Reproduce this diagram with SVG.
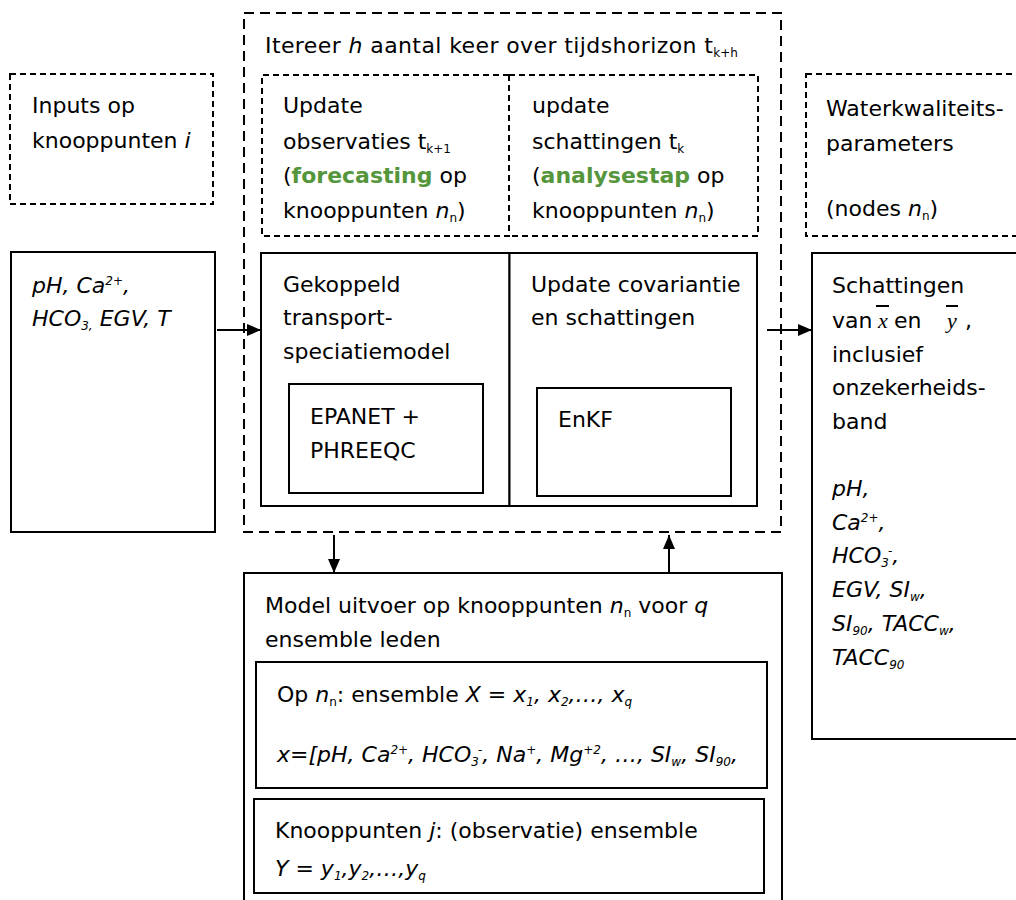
<svg xmlns="http://www.w3.org/2000/svg" width="1016" height="900" viewBox="0 0 1016 900">
<style>
text{font-family:"DejaVu Sans","Liberation Sans",sans-serif;font-size:22px;fill:#000}
.i{font-style:italic}
.sm{font-size:12px}
.g{fill:#55963c;font-weight:bold}
.box{fill:#fff;stroke:#000;stroke-width:2}
.dl{fill:none;stroke:#000;stroke-width:2;stroke-dasharray:10 6}
.ds{fill:none;stroke:#000;stroke-width:2;stroke-dasharray:6 4}
.c{fill:none;stroke:#000;stroke-width:2}
.ser{font-family:"Liberation Serif","DejaVu Serif",serif;font-style:italic}
</style>
<defs>
<marker id="ah" markerUnits="userSpaceOnUse" markerWidth="14" markerHeight="14" refX="14" refY="7" orient="auto">
<path d="M0,1 L14,7 L0,13 z" fill="#000"/>
</marker>
</defs>

<g id="inputs-label">
<rect class="ds" x="10" y="74" width="203" height="130"/>
<text x="32" y="113">Inputs op</text>
<text x="32" y="148">knooppunten <tspan class="i">i</tspan></text>
</g>

<g id="inputs">
<rect class="box" x="11" y="252" width="204" height="280"/>
<text class="i" x="32" y="293">pH, Ca<tspan class="sm" dy="-8">2+</tspan><tspan dy="8">,</tspan></text>
<text class="i" x="32" y="326">HCO<tspan class="sm" dy="4">3,</tspan><tspan dy="-4"> EGV, T</tspan></text>
</g>

<g id="iteration">
<rect class="dl" x="244" y="13" width="537" height="519"/>
<text x="265" y="53" letter-spacing="0.4">Itereer <tspan class="i">h</tspan> aantal keer over tijdshorizon t<tspan class="sm" dy="4" letter-spacing="0">k+h</tspan></text>
</g>

<g id="update-observaties">
<path class="ds" d="M509,75 H262 V236 H509 Z"/>
<text x="283" y="113">Update</text>
<text x="283" y="149">observaties t<tspan class="sm" dy="4">k+1</tspan></text>
<text x="283" y="183">(<tspan class="g">forecasting</tspan> op</text>
<text x="283" y="218">knooppunten <tspan class="i">n</tspan><tspan class="sm" dy="4">n</tspan><tspan dy="-4">)</tspan></text>
</g>

<g id="update-schattingen">
<path class="ds" d="M509,75 H758 V236 H509"/>
<text x="532" y="113">update</text>
<text x="532" y="149">schattingen t<tspan class="sm" dy="4">k</tspan></text>
<text x="532" y="183">(<tspan class="g">analysestap</tspan> op</text>
<text x="532" y="218">knooppunten <tspan class="i">n</tspan><tspan class="sm" dy="4">n</tspan><tspan dy="-4">)</tspan></text>
</g>

<g id="transportmodel">
<rect class="box" x="261" y="253" width="248.5" height="253"/>
<text x="283" y="292">Gekoppeld</text>
<text x="283" y="325">transport-</text>
<text x="283" y="359">speciatiemodel</text>
</g>

<g id="epanet">
<rect class="box" x="289" y="384" width="194" height="109"/>
<text x="310" y="424">EPANET +</text>
<text x="310" y="458">PHREEQC</text>
</g>

<g id="covariantie">
<rect class="box" x="509.5" y="253" width="247.5" height="253"/>
<text x="531" y="292">Update covariantie</text>
<text x="531" y="325">en schattingen</text>
</g>

<g id="enkf">
<rect class="box" x="537" y="388" width="194" height="108"/>
<text x="558" y="427">EnKF</text>
</g>

<g id="output-label">
<rect class="ds" x="806" y="74" width="230" height="162"/>
<text x="826" y="116">Waterkwaliteits-</text>
<text x="826" y="151">parameters</text>
<text x="826" y="216">(nodes <tspan class="i">n</tspan><tspan class="sm" dy="4">n</tspan><tspan dy="-4">)</tspan></text>
</g>

<g id="schattingen">
<rect class="box" x="812" y="253" width="230" height="486"/>
<text x="832" y="293">Schattingen</text>
<text x="832" y="328">van</text>
<text class="ser" x="878" y="328">x</text>
<path class="c" d="M876,306 H889 M946,306 H958" stroke-width="1.5"/>
<text x="894" y="328">en</text>
<text class="ser" x="947" y="328">y</text>
<text x="965" y="328">,</text>
<text x="832" y="362">inclusief</text>
<text x="832" y="395">onzekerheids-</text>
<text x="832" y="429">band</text>
<text class="i" x="832" y="496">pH,</text>
<text class="i" x="832" y="530">Ca<tspan class="sm" dy="-8">2+</tspan><tspan dy="8">,</tspan></text>
<text class="i" x="832" y="563">HCO<tspan class="sm" dy="4">3</tspan><tspan class="sm" dx="-1" dy="-12">-</tspan><tspan dy="8">,</tspan></text>
<text class="i" x="832" y="597">EGV, SI<tspan class="sm" dy="4">w</tspan><tspan dy="-4">,</tspan></text>
<text class="i" x="832" y="631">SI<tspan class="sm" dy="4">90</tspan><tspan dy="-4">, TACC</tspan><tspan class="sm" dy="4">w</tspan><tspan dy="-4">,</tspan></text>
<text class="i" x="832" y="665">TACC<tspan class="sm" dy="4">90</tspan></text>
</g>

<g id="model-uitvoer">
<rect class="box" x="244" y="573" width="538" height="360"/>
<text x="265" y="613">Model uitvoer op knooppunten <tspan class="i">n</tspan><tspan class="sm" dy="4">n</tspan><tspan dy="-4"> voor </tspan><tspan class="i">q</tspan></text>
<text x="265" y="647">ensemble leden</text>
</g>

<g id="ensemble-x">
<rect class="box" x="256" y="662" width="511" height="126"/>
<text x="277" y="702">Op <tspan class="i">n</tspan><tspan class="sm" dy="4">n</tspan><tspan dy="-4">: ensemble </tspan><tspan class="i">X = x</tspan><tspan class="sm i" dy="4">1</tspan><tspan class="i" dy="-4">, x</tspan><tspan class="sm i" dy="4">2</tspan><tspan class="i" dy="-4">,…, x</tspan><tspan class="sm i" dy="4">q</tspan></text>
<text class="i" x="277" y="762">x=[pH, Ca<tspan class="sm" dy="-8">2+</tspan><tspan dy="8">, HCO</tspan><tspan class="sm" dy="4">3</tspan><tspan class="sm" dx="-1" dy="-12">-</tspan><tspan dy="8">, Na</tspan><tspan class="sm" dy="-8">+</tspan><tspan dy="8">, Mg</tspan><tspan class="sm" dy="-8">+2</tspan><tspan dy="8">, …, SI</tspan><tspan class="sm" dy="4">w</tspan><tspan dy="-4">, SI</tspan><tspan class="sm" dy="4">90</tspan><tspan dy="-4">,</tspan></text>
</g>

<g id="ensemble-y">
<rect class="box" x="254" y="799" width="510" height="94"/>
<text x="275" y="838">Knooppunten <tspan class="i">j</tspan>: (observatie) ensemble</text>
<text class="i" x="275" y="876">Y = y<tspan class="sm" dy="4">1</tspan><tspan dy="-4">,y</tspan><tspan class="sm" dy="4">2</tspan><tspan dy="-4">,…,y</tspan><tspan class="sm" dy="4">q</tspan></text>
</g>

<g id="connectors">
<path class="c" d="M217,330 H261" marker-end="url(#ah)"/>
<path class="c" d="M767,330 H812" marker-end="url(#ah)"/>
<path class="c" d="M334,535 V573" marker-end="url(#ah)"/>
<path class="c" d="M669,573 V535" marker-end="url(#ah)"/>
</g>
</svg>
